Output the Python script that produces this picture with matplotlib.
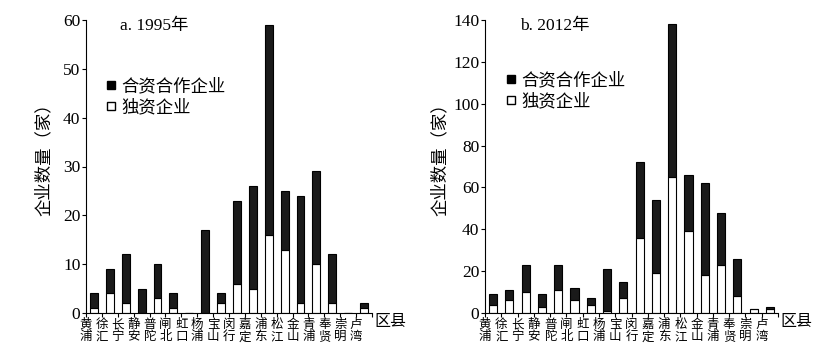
import matplotlib
matplotlib.use("Agg")
import matplotlib.pyplot as plt
import numpy as np
from matplotlib.lines import Line2D

plt.rcParams['font.family'] = ['Liberation Serif', 'Noto Sans CJK SC', 'DejaVu Sans']

districts = ["黄\n浦", "徐\n汇", "长\n宁", "静\n安", "普\n陀", "闸\n北", "虹\n口", "杨\n浦", "宝\n山",
             "闵\n行", "嘉\n定", "浦\n东", "松\n江", "金\n山", "青\n浦", "奉\n贤", "崇\n明", "卢\n湾"]

total_1995 = [4, 9, 12, 5, 10, 4, 0, 17, 4, 23, 26, 59, 25, 24, 29, 12, 0, 2]
sole_1995 = [1, 4, 2, 0, 3, 1, 0, 0, 2, 6, 5, 16, 13, 2, 10, 2, 0, 1]

total_2012 = [9, 11, 23, 9, 23, 12, 7, 21, 15, 72, 54, 138, 66, 62, 48, 26, 2, 3]
sole_2012 = [4, 6, 10, 3, 11, 6, 4, 1, 7, 36, 19, 65, 39, 18, 23, 8, 2, 2]

legend_labels = ["合资合作企业", "独资企业"]
titles = ["a. 1995年", "b. 2012年"]
ylabel = "企业数量（家）"
xlabel = "区县"

fig = plt.figure(figsize=(8.14, 3.57), dpi=100)
ax1 = fig.add_axes([86/814, 1-313/357, 286/814, 293/357])
ax2 = fig.add_axes([485/814, 1-313/357, 293/814, 293/357])

def draw(ax, total, sole, ymax, ystep, title, ylab_x, leg_anchor):
    x = np.arange(len(districts))
    total = np.array(total); sole = np.array(sole)
    joint = total - sole
    ax.bar(x, sole, width=0.5, color='white', edgecolor='black', linewidth=0.8, zorder=2)
    ax.bar(x, joint, bottom=sole, width=0.5, color='#1a1a1a', edgecolor='black', linewidth=0.8, zorder=2)
    ax.set_xlim(-0.5, len(districts) - 0.5)
    ax.set_ylim(0, ymax)
    ax.set_yticks(np.arange(0, ymax + 1, ystep))
    ax.tick_params(axis='y', labelsize=12.5, length=3, width=0.8, pad=1)
    ax.set_xticks(np.arange(-0.5, len(districts), 1.0))
    ax.set_xticklabels(districts + [""], fontsize=9, linespacing=1.0)
    ax.tick_params(axis='x', length=3, width=0.8, pad=1.5)
    for s in ['top', 'right']:
        ax.spines[s].set_visible(False)
    for s in ['left', 'bottom']:
        ax.spines[s].set_linewidth(0.8)
    ax.text(0.12, 0.98, title, transform=ax.transAxes, fontsize=12.5, va='center', ha='left')
    ax.text(1.01, -0.03, xlabel, transform=ax.transAxes, fontsize=11.5, va='center', ha='left')
    ax.set_ylabel(ylabel, fontsize=12.5, labelpad=0)
    ax.yaxis.set_label_coords(ylab_x, 0.54)
    handles = [Line2D([], [], marker='s', linestyle='none', markerfacecolor='black', markeredgecolor='black', markersize=5.5),
               Line2D([], [], marker='s', linestyle='none', markerfacecolor='white', markeredgecolor='black', markersize=5.5)]
    ax.legend(handles, legend_labels, loc='upper left', bbox_to_anchor=leg_anchor, frameon=False,
              fontsize=12.5, handlelength=0.6, handletextpad=0.3, labelspacing=0.25, borderpad=0, borderaxespad=0)

draw(ax1, total_1995, sole_1995, 60, 10, titles[0], -0.115, (0.07, 0.8))
draw(ax2, total_2012, sole_2012, 140, 20, titles[1], -0.125, (0.07, 0.82))

fig.savefig("out.png", dpi=100)
